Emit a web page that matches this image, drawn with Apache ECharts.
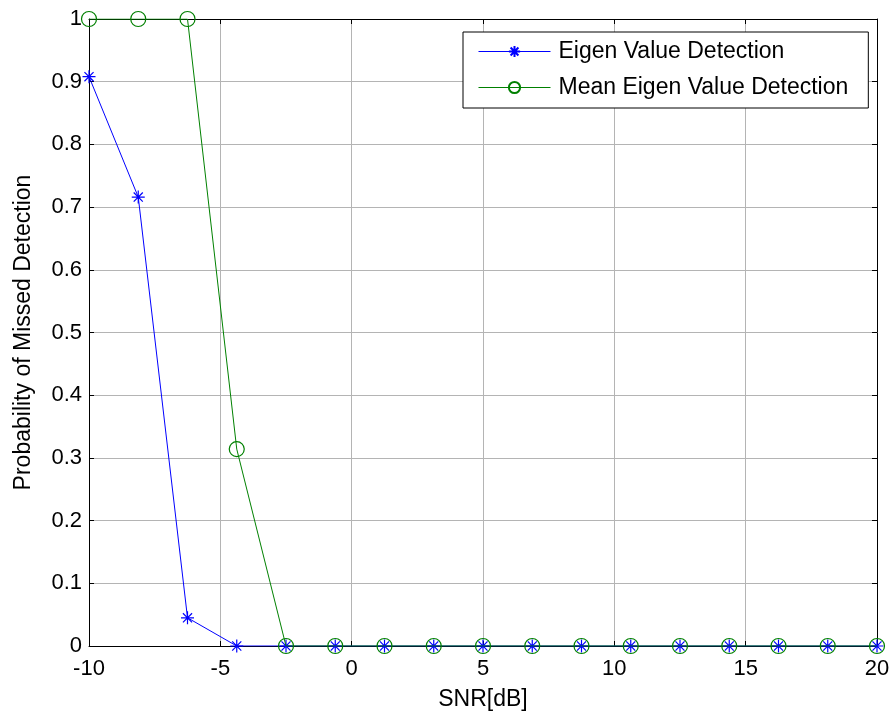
<!DOCTYPE html>
<html>
<head>
<meta charset="utf-8">
<script src="https://cdn.jsdelivr.net/npm/echarts@6/dist/echarts.min.js"></script>
<style>
html,body{margin:0;padding:0;background:#fff;}
#c{width:889px;height:711px;}
</style>
</head>
<body>
<div id="c"></div>
<script>
var snr = [-10, -8.125, -6.25, -4.375, -2.5, -0.625, 1.25, 3.125, 5, 6.875, 8.75, 10.625, 12.5, 14.375, 16.25, 18.125, 20];
var eigenValues = [0.908, 0.716, 0.045, 0, 0, 0, 0, 0, 0, 0, 0, 0, 0, 0, 0, 0, 0];
var meanEigenValues = [1, 1, 1, 0.314, 0, 0, 0, 0, 0, 0, 0, 0, 0, 0, 0, 0, 0];
var seriesNames = ['Eigen Value Detection', 'Mean Eigen Value Detection'];
var xTitle = 'SNR[dB]';
var yTitle = 'Probability of Missed Detection';

function pairs(xs, ys){ return xs.map(function(x,i){ return [x, ys[i]]; }); }

var asterisk = 'path://M0,-1L0,1M-1,0L1,0M-0.7,-0.7L0.7,0.7M-0.7,0.7L0.7,-0.7';
var font = 'Liberation Sans, Arial, sans-serif';

var commonX = {
  type:'value', min:-10, max:20, interval:5,
  axisLine:{onZero:false, lineStyle:{color:'#000', width:1}},
  axisTick:{inside:true, length:5, lineStyle:{color:'#000'}}
};
var commonY = {
  type:'value', min:0, max:1, interval:0.1,
  axisLine:{onZero:false, lineStyle:{color:'#000', width:1}},
  axisTick:{inside:true, length:5, lineStyle:{color:'#000'}}
};

var chart = echarts.init(document.getElementById('c'), null, {renderer:'canvas'});
chart.setOption({
  animation:false,
  backgroundColor:'#fff',
  grid:{left:89, right:12, top:19, bottom:65, show:false, containLabel:false, outerBoundsMode:'none'},
  legend:{
    left:463, top:32, orient:'vertical',
    padding:[8,20,9,15],
    itemWidth:72, itemHeight:14, itemGap:13,
    backgroundColor:'#fff', borderColor:'#000', borderWidth:1,
    lineStyle:{width:1},
    textStyle:{fontFamily:font, fontSize:23, color:'#000', padding:[0,0,0,3]},
    data:seriesNames
  },
  xAxis:[
    Object.assign({}, commonX, {
      position:'bottom',
      name:xTitle, nameLocation:'middle', nameGap:42,
      nameTextStyle:{fontFamily:font, fontSize:23, color:'#000'},
      axisLabel:{fontFamily:font, fontSize:22, color:'#000', margin:12},
      splitLine:{show:true, lineStyle:{color:'#b4b4b4', width:1}}
    }),
    Object.assign({}, commonX, {
      position:'top', axisLabel:{show:false}, splitLine:{show:false}
    })
  ],
  yAxis:[
    Object.assign({}, commonY, {
      position:'left',
      name:yTitle, nameLocation:'middle', nameGap:54,
      nameTextStyle:{fontFamily:font, fontSize:23, color:'#000'},
      axisLabel:{fontFamily:font, fontSize:22, color:'#000', margin:7,
        formatter:function(v){ return String(Math.round(v*10)/10); }},
      splitLine:{show:true, lineStyle:{color:'#b4b4b4', width:1}}
    }),
    Object.assign({}, commonY, {
      position:'right', axisLabel:{show:false}, splitLine:{show:false}
    })
  ],
  series:[
    {
      name:seriesNames[0], type:'line', data:pairs(snr, eigenValues),
      symbol:asterisk, symbolSize:13, showAllSymbol:true,
      lineStyle:{color:'#0000ff', width:1},
      itemStyle:{color:'none', borderColor:'#0000ff', borderWidth:1.2},
      emphasis:{disabled:true}, z:2
    },
    {
      name:seriesNames[1], type:'line', data:pairs(snr, meanEigenValues),
      symbol:'circle', symbolSize:15, showAllSymbol:true,
      lineStyle:{color:'#008000', width:1},
      itemStyle:{color:'none', borderColor:'#008000', borderWidth:1.2},
      emphasis:{disabled:true}, z:3
    }
  ]
});
</script>
</body>
</html>
